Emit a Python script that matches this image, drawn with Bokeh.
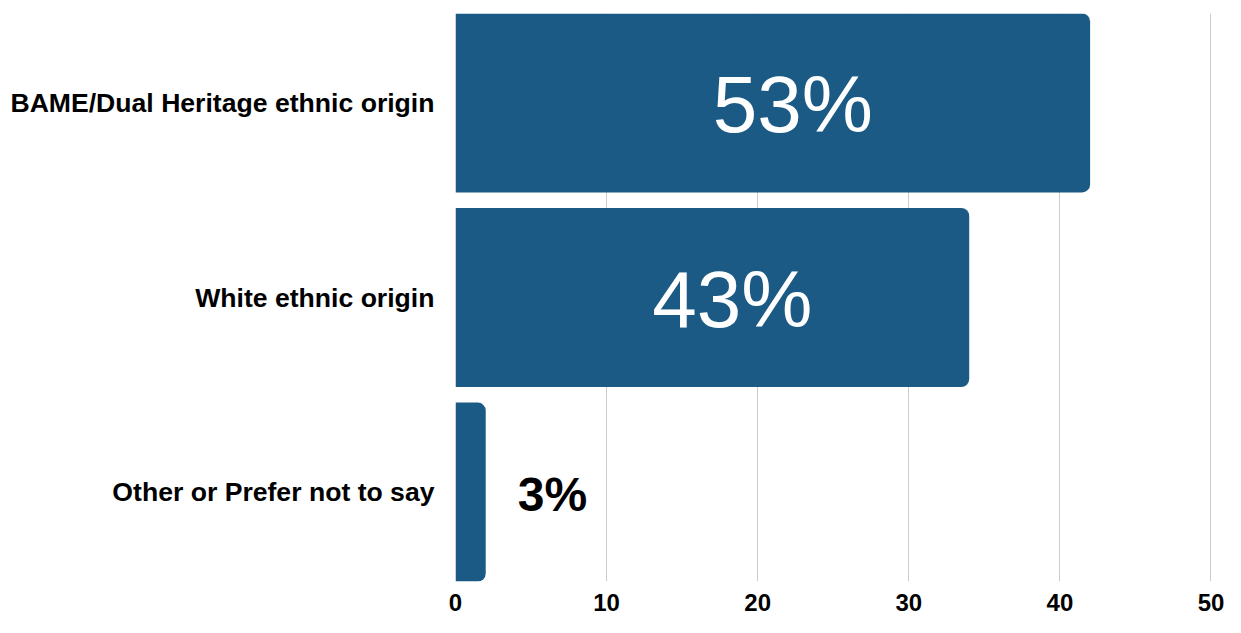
from bokeh.plotting import figure
from bokeh.models import Range1d, FixedTicker
from bokeh.core.properties import value
from bokeh.embed import file_html
from bokeh.resources import INLINE

categories = ["BAME/Dual Heritage ethnic origin", "White ethnic origin", "Other or Prefer not to say"]
counts = [42, 34, 2]
percent_labels = ["53%", "43%", "3%"]
x_ticks = [0, 10, 20, 30, 40, 50]

n = len(categories)
ypos = list(range(n - 1, -1, -1))

p = figure(width=1225, height=617, output_backend="svg", toolbar_location=None,
           x_range=Range1d(0, 50.1), y_range=Range1d(-0.46, n - 1 + 0.46),
           min_border_left=455, min_border_right=13, min_border_top=13, min_border_bottom=36)
p.outline_line_color = None
p.background_fill_color = "white"
p.border_fill_color = "white"

p.hbar(y=ypos, left=0, right=counts, height=0.92, fill_color="#1a5a85",
       line_color=None, border_radius=(0, 8, 8, 0))

# large labels inside bars, small ones outside
in_x, in_y, in_t = [], [], []
out_x, out_y, out_t = [], [], []
for c, y, t in zip(counts, ypos, percent_labels):
    if c >= 10:
        in_x.append(c / 2); in_y.append(y); in_t.append(t)
    else:
        out_x.append(c); out_y.append(y); out_t.append(t)

p.text(x=in_x, y=in_y, text=in_t, text_align="center", text_baseline="middle",
       x_offset=20, y_offset=2,
       text_font=value("Liberation Sans"), text_font_size="80px", text_color="white")
p.text(x=out_x, y=out_y, text=out_t, text_align="left", text_baseline="middle",
       x_offset=32, y_offset=2,
       text_font=value("Liberation Sans"), text_font_size="48px", text_font_style="bold",
       text_color="black")

p.xaxis.ticker = FixedTicker(ticks=x_ticks)
p.xaxis.axis_line_color = None
p.xaxis.major_tick_line_color = None
p.xaxis.minor_tick_line_color = None
p.xaxis.major_label_text_font = "Liberation Sans"
p.xaxis.major_label_text_font_size = "24px"
p.xaxis.major_label_text_font_style = "bold"
p.xaxis.major_label_text_color = "black"
p.xaxis.major_label_standoff = 6

p.yaxis.ticker = FixedTicker(ticks=ypos)
p.yaxis.major_label_overrides = {y: c for y, c in zip(ypos, categories)}
p.yaxis.axis_line_color = None
p.yaxis.major_tick_line_color = None
p.yaxis.minor_tick_line_color = None
p.yaxis.major_label_text_font = "Liberation Sans"
p.yaxis.major_label_text_font_size = "26.6px"
p.yaxis.major_label_text_font_style = "bold"
p.yaxis.major_label_text_color = "black"
p.yaxis.major_label_standoff = 15

p.ygrid.grid_line_color = None
p.xgrid.ticker = FixedTicker(ticks=x_ticks)
p.xgrid.grid_line_color = "#cccccc"
p.xgrid.grid_line_width = 1

open("out.html", "w").write(file_html(p, INLINE))
